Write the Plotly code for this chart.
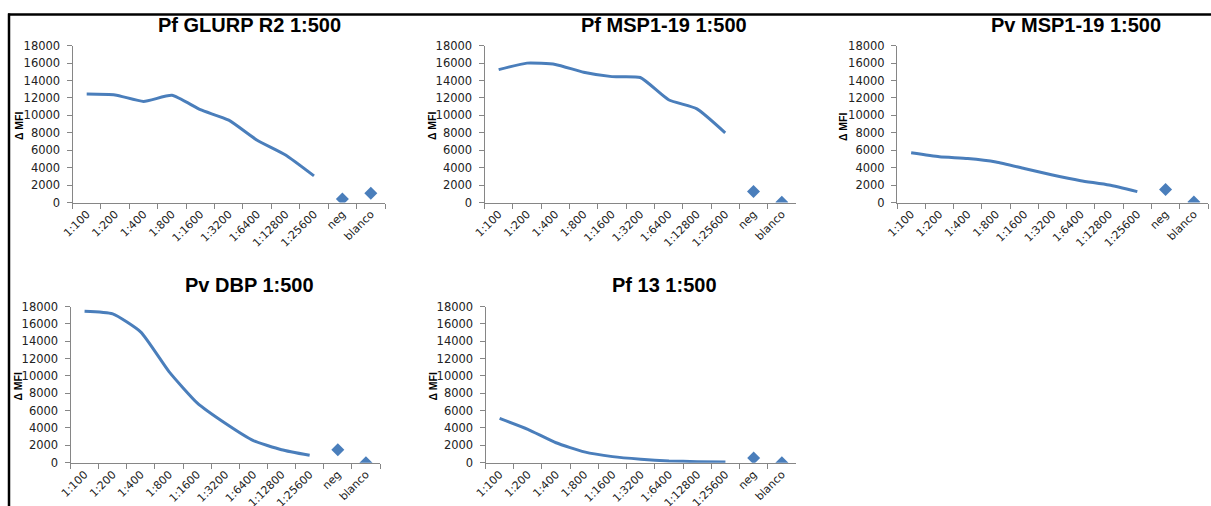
import plotly.graph_objects as go

W, H = 1211, 506

# Dilution categories shared by all five panels
dilutions = ["1:100", "1:200", "1:400", "1:800", "1:1600", "1:3200",
             "1:6400", "1:12800", "1:25600"]
controls = ["neg", "blanco"]
categories = dilutions + controls

# ΔMFI per antigen (titration curve) and control wells
titles = ["Pf GLURP R2 1:500", "Pf MSP1-19 1:500", "Pv MSP1-19 1:500",
          "Pv DBP 1:500", "Pf 13 1:500"]

glurp_curve = [12450, 12350, 11600, 12300, 10650, 9450, 7150, 5450, 3050]
glurp_ctrl = [400, 1050]

pf_msp_curve = [15250, 16000, 15850, 14950, 14450, 14350, 11800, 10750, 8000]
pf_msp_ctrl = [1250, 30]

pv_msp_curve = [5700, 5250, 5050, 4650, 3900, 3150, 2500, 2000, 1250]
pv_msp_ctrl = [1500, 50]

dbp_curve = [17450, 17150, 15050, 10500, 6900, 4550, 2550, 1500, 850]
dbp_ctrl = [1500, 0]

pf13_curve = [5100, 3850, 2300, 1250, 700, 400, 200, 120, 90]
pf13_ctrl = [550, 0]

curves = [glurp_curve, pf_msp_curve, pv_msp_curve, dbp_curve, pf13_curve]
ctrls = [glurp_ctrl, pf_msp_ctrl, pv_msp_ctrl, dbp_ctrl, pf13_ctrl]

y_ticks = [0, 2000, 4000, 6000, 8000, 10000, 12000, 14000, 16000, 18000]

# Plot-area boxes in pixels: (left, right, top, bottom)
boxes = [
    (72.5, 385, 45.7, 202.5),
    (484.5, 796, 45.7, 202.5),
    (897, 1208, 45.7, 202.5),
    (70.5, 380, 306.5, 462.7),
    (485.5, 796, 306.5, 462.7),
]
title_pos = [(249, 25), (664, 25), (1076, 25), (249, 285), (664, 285)]
ytitle_x = [19, 432, 843, 18, 433]

BLUE = "#4a7ebb"
AXIS = "#868686"
TEXT = "#222222"


def fx(px):
    return px / W


def fy(py):
    return 1 - py / H


fig = go.Figure()
layout = dict(
    template="none",
    width=W, height=H, autosize=False,
    margin=dict(l=0, r=0, t=0, b=0, pad=0, autoexpand=False),
    paper_bgcolor="white", plot_bgcolor="white",
    showlegend=False,
    annotations=[], shapes=[],
)

for i in range(5):
    n = "" if i == 0 else str(i + 1)
    xa, ya = "x" + n, "y" + n
    left, right, top, bottom = boxes[i]

    fig.add_trace(go.Scatter(
        x=dilutions, y=curves[i], xaxis=xa, yaxis=ya, mode="lines",
        line=dict(color=BLUE, width=3, shape="spline", smoothing=0.5),
        hoverinfo="x+y",
    ))
    fig.add_trace(go.Scatter(
        x=controls, y=ctrls[i], xaxis=xa, yaxis=ya, mode="markers",
        marker=dict(symbol="diamond", size=10, color=BLUE),
        hoverinfo="x+y",
    ))

    layout["xaxis" + n] = dict(
        domain=[fx(left), fx(right)], anchor=ya, automargin=False,
        type="category", categoryorder="array", categoryarray=categories,
        range=[-0.5, len(categories) - 0.5],
        showline=True, linecolor=AXIS, linewidth=1,
        ticks="outside", tickson="boundaries", ticklen=5, tickcolor=AXIS,
        tickangle=-45, showgrid=False, zeroline=False,
        tickfont=dict(family="DejaVu Sans", size=11, color=TEXT),
        fixedrange=True,
    )
    layout["yaxis" + n] = dict(
        domain=[fy(bottom), fy(top)], anchor=xa, automargin=False,
        range=[0, 18000], tickvals=y_ticks, tickformat="d",
        showline=True, linecolor=AXIS, linewidth=1,
        ticks="outside", ticklen=5, tickcolor=AXIS,
        showgrid=False, zeroline=False,
        tickfont=dict(family="DejaVu Sans", size=11.5, color=TEXT),
        ticklabelstandoff=4,
        fixedrange=True,
    )

    tx, ty = title_pos[i]
    layout["annotations"].append(dict(
        text="<b>%s</b>" % titles[i], xref="paper", yref="paper",
        x=fx(tx), y=fy(ty), xanchor="center", yanchor="middle",
        showarrow=False,
        font=dict(family="Liberation Sans", size=20, color="black"),
    ))
    layout["annotations"].append(dict(
        text="<b>Δ MFI</b>", xref="paper", yref="paper",
        x=fx(ytitle_x[i]), y=fy((top + bottom) / 2 + 2),
        xanchor="center", yanchor="middle", textangle=-90,
        showarrow=False,
        font=dict(family="Liberation Sans", size=10.5, color="black"),
    ))

# Frame lines along the top and left edges
layout["shapes"] = [
    dict(type="line", xref="paper", yref="paper",
         x0=fx(8), x1=1, y0=fy(14.5), y1=fy(14.5),
         line=dict(color="black", width=2.5)),
    dict(type="line", xref="paper", yref="paper",
         x0=fx(9), x1=fx(9), y0=fy(13.5), y1=0,
         line=dict(color="black", width=2.5)),
]

fig.update_layout(**layout)
fig.write_html("out.html",
               post_script="document.body.style.margin='0';")
